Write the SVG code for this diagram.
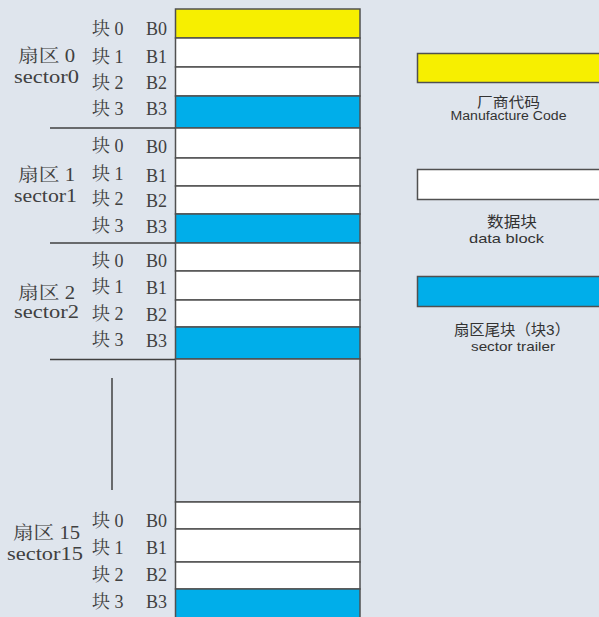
<svg xmlns="http://www.w3.org/2000/svg" width="599" height="617" viewBox="0 0 599 617">
<style>
.bg{fill:#DFE5ED}
.cell{stroke:#505050;stroke-width:1.5}
.y{fill:#F7EF00}
.w{fill:#FFFFFF}
.b{fill:#00AEEA}
.g{fill:#DFE5ED}
.lbl{font-family:"Liberation Serif","Noto Serif CJK SC","Noto Sans CJK SC",serif;font-size:18px;fill:#404040}
.leg{font-family:"Liberation Sans","Noto Sans CJK SC",sans-serif;fill:#333333;text-anchor:middle}
.sep{stroke:#404040;stroke-width:1.5}
</style>
<rect class="bg" x="0" y="0" width="599" height="617"/>

<g id="sector0">
<rect class="cell y" x="175.5" y="9" width="184.5" height="29"/>
<rect class="cell w" x="175.5" y="38" width="184.5" height="29"/>
<rect class="cell w" x="175.5" y="67" width="184.5" height="29"/>
<rect class="cell b" x="175.5" y="96" width="184.5" height="32"/>
<text class="lbl" x="18" y="62" textLength="57" lengthAdjust="spacingAndGlyphs">扇区 0</text>
<text class="lbl" x="14" y="83" textLength="65" lengthAdjust="spacingAndGlyphs">sector0</text>
<text class="lbl" x="92" y="35">块 0</text><text class="lbl" x="146" y="35">B0</text>
<text class="lbl" x="92" y="63">块 1</text><text class="lbl" x="146" y="63">B1</text>
<text class="lbl" x="92" y="89">块 2</text><text class="lbl" x="146" y="89">B2</text>
<text class="lbl" x="92" y="115">块 3</text><text class="lbl" x="146" y="115">B3</text>
</g>

<g id="sector1">
<rect class="cell w" x="175.5" y="128" width="184.5" height="30"/>
<rect class="cell w" x="175.5" y="158" width="184.5" height="28"/>
<rect class="cell w" x="175.5" y="186" width="184.5" height="28"/>
<rect class="cell b" x="175.5" y="214" width="184.5" height="29"/>
<text class="lbl" x="18" y="181" textLength="57" lengthAdjust="spacingAndGlyphs">扇区 1</text>
<text class="lbl" x="14" y="202" textLength="63" lengthAdjust="spacingAndGlyphs">sector1</text>
<text class="lbl" x="92" y="152">块 0</text><text class="lbl" x="146" y="153">B0</text>
<text class="lbl" x="92" y="180">块 1</text><text class="lbl" x="146" y="182">B1</text>
<text class="lbl" x="92" y="205">块 2</text><text class="lbl" x="146" y="207">B2</text>
<text class="lbl" x="92" y="232">块 3</text><text class="lbl" x="146" y="233">B3</text>
</g>

<g id="sector2">
<rect class="cell w" x="175.5" y="243" width="184.5" height="28"/>
<rect class="cell w" x="175.5" y="271" width="184.5" height="29"/>
<rect class="cell w" x="175.5" y="300" width="184.5" height="27"/>
<rect class="cell b" x="175.5" y="327" width="184.5" height="32"/>
<text class="lbl" x="18" y="299" textLength="57" lengthAdjust="spacingAndGlyphs">扇区 2</text>
<text class="lbl" x="14" y="318" textLength="65" lengthAdjust="spacingAndGlyphs">sector2</text>
<text class="lbl" x="92" y="267">块 0</text><text class="lbl" x="146" y="267">B0</text>
<text class="lbl" x="92" y="293">块 1</text><text class="lbl" x="146" y="294">B1</text>
<text class="lbl" x="92" y="320">块 2</text><text class="lbl" x="146" y="321">B2</text>
<text class="lbl" x="92" y="346">块 3</text><text class="lbl" x="146" y="347">B3</text>
</g>

<g id="gap">
<rect class="cell g" x="175.5" y="359" width="184.5" height="143"/>
</g>

<g id="sector15">
<rect class="cell w" x="175.5" y="502" width="184.5" height="27"/>
<rect class="cell w" x="175.5" y="529" width="184.5" height="33"/>
<rect class="cell w" x="175.5" y="562" width="184.5" height="27"/>
<rect class="cell b" x="175.5" y="589" width="184.5" height="32"/>
<text class="lbl" x="13" y="539" textLength="67" lengthAdjust="spacingAndGlyphs">扇区 15</text>
<text class="lbl" x="7" y="560" textLength="76" lengthAdjust="spacingAndGlyphs">sector15</text>
<text class="lbl" x="92" y="527">块 0</text><text class="lbl" x="146" y="527">B0</text>
<text class="lbl" x="92" y="554">块 1</text><text class="lbl" x="146" y="554">B1</text>
<text class="lbl" x="92" y="581">块 2</text><text class="lbl" x="146" y="581">B2</text>
<text class="lbl" x="92" y="608">块 3</text><text class="lbl" x="146" y="608">B3</text>
</g>

<g id="separators">
<line class="sep" x1="50" y1="128" x2="175" y2="128"/>
<line class="sep" x1="50" y1="243" x2="175" y2="243"/>
<line class="sep" x1="50" y1="359.5" x2="175" y2="359.5"/>
<line class="sep" x1="112" y1="378" x2="112" y2="490"/>
</g>

<g id="legend-manufacture">
<rect class="cell y" x="417.5" y="53.5" width="190" height="29"/>
<text class="leg" x="508.5" y="107" font-size="14" textLength="63" lengthAdjust="spacingAndGlyphs">厂商代码</text>
<text class="leg" x="508.5" y="120" font-size="12" textLength="116" lengthAdjust="spacingAndGlyphs">Manufacture  Code</text>
</g>

<g id="legend-data">
<rect class="cell w" x="417.5" y="169.5" width="190" height="30"/>
<text class="leg" x="512" y="227" font-size="15" textLength="50" lengthAdjust="spacingAndGlyphs">数据块</text>
<text class="leg" x="506.5" y="243" font-size="13" textLength="75" lengthAdjust="spacingAndGlyphs">data  block</text>
</g>

<g id="legend-trailer">
<rect class="cell b" x="417.5" y="276.5" width="190" height="30"/>
<text class="leg" x="512" y="335" font-size="15" textLength="116" lengthAdjust="spacingAndGlyphs">扇区尾块（块3）</text>
<text class="leg" x="513" y="351" font-size="13" textLength="84" lengthAdjust="spacingAndGlyphs">sector  trailer</text>
</g>
</svg>
